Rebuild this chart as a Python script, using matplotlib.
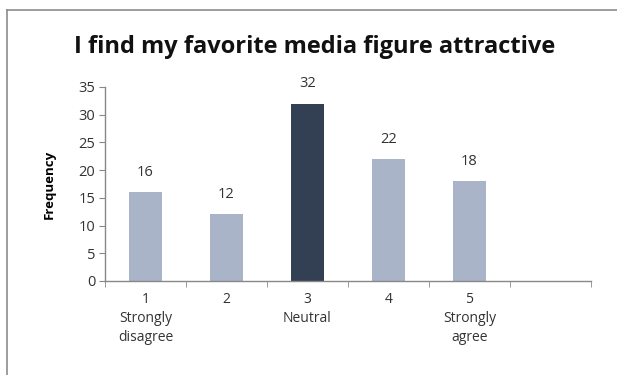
import numpy as np
import matplotlib
matplotlib.use('Agg')
import matplotlib.pyplot as plt
from matplotlib.lines import Line2D

# Daten
categories = ['1\nStrongly\ndisagree', '2', '3\nNeutral', '4', '5\nStrongly\nagree', '']
values = [16, 12, 32, 22, 18]
highlight = 2          # Index der hervorgehobenen Kategorie (Neutral)
y_ticks = [0, 5, 10, 15, 20, 25, 30, 35]

light = '#a9b4c8'
dark = '#333f53'
txt = '#333333'

plt.rcParams['font.family'] = ['Open Sans', 'DejaVu Sans']

fig = plt.figure(figsize=(6.17, 3.75), dpi=100)
ax = fig.add_axes([105/617, 1-281/375, (591-105)/617, (281-87)/375])

# Rahmen des Diagrammbereichs (rechts und unten abgeschnitten)
fig.add_artist(Line2D([7/617, 7/617], [0, 1-10/375], transform=fig.transFigure,
                      color='#8c8c8c', lw=1.2))
fig.add_artist(Line2D([7/617, 1], [1-10/375, 1-10/375], transform=fig.transFigure,
                      color='#8c8c8c', lw=1.2))

x = np.arange(len(values))
cols = [dark if i == highlight else light for i in x]
bars = ax.bar(x, values, width=0.415, color=cols)
for xi, v in zip(x, values):
    ax.text(xi, v + 2.2, str(v), ha='center', va='bottom', fontsize=10.5, color=txt)

ax.set_xlim(-0.5, len(categories) - 0.5)
ax.set_ylim(0, 35)
ax.set_yticks(y_ticks)
ax.tick_params(axis='y', direction='out', length=4, color='#888888',
               labelsize=10.5, labelcolor=txt, pad=3)

# Beschriftung in der Mitte, Striche an den Grenzen
ax.set_xticks(np.arange(len(categories)))
ax.set_xticklabels(categories, fontsize=10, color=txt, linespacing=1.35, va='top')
ax.set_xticks(np.arange(len(categories) + 1) - 0.5, minor=True)
ax.tick_params(axis='x', which='major', length=0, pad=8)
ax.tick_params(axis='x', which='minor', direction='out', length=4, color='#888888')

for s in ['top', 'right']:
    ax.spines[s].set_visible(False)
for s in ['left', 'bottom']:
    ax.spines[s].set_color('#888888')
    ax.spines[s].set_linewidth(1.0)

ax.set_ylabel('Frequency', fontsize=9.5, fontweight='bold', labelpad=16)
fig.text(315/617, 1-47/375, 'I find my favorite media figure attractive',
         ha='center', va='center', fontsize=17, fontweight='bold', color='#111111')

fig.savefig('out.png', dpi=100)
